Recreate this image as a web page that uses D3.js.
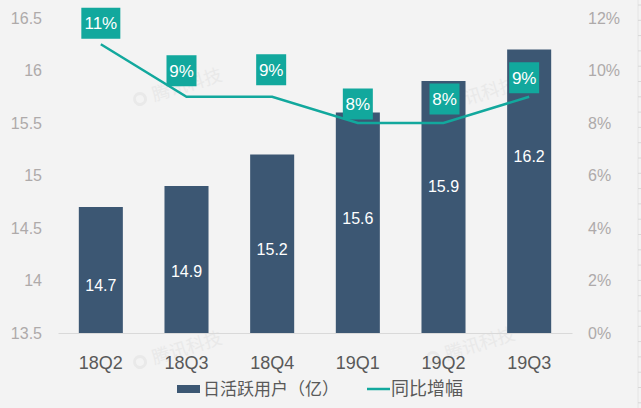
<!DOCTYPE html>
<html>
<head>
<meta charset="utf-8">
<script src="https://cdn.jsdelivr.net/npm/d3@7"></script>
<style>
html, body { margin: 0; padding: 0; background: #f3f3f3; }
svg text { font-family: "Liberation Sans", Arial, sans-serif; }
</style>
</head>
<body>
<div id="chart"></div>
<script>
var width = 641,
    height = 408;

var quarters = ["18Q2", "18Q3", "18Q4", "19Q1", "19Q2", "19Q3"];
var dau = [14.7, 14.9, 15.2, 15.6, 15.9, 16.2];
var growth = [11, 9, 9, 8, 8, 9];
var leftTicks = [13.5, 14, 14.5, 15, 15.5, 16, 16.5];
var rightTicks = [0, 2, 4, 6, 8, 10, 12];
var barName = "日活跃用户（亿）";
var lineName = "同比增幅";
var watermarks = [[140, 99], [435, 108], [140, 362], [433, 358]];

// the labels were placed by hand in the original, so nudge them the same way
var barLabelShift = [15, 12, 6, -4, -21, -35];
var boxShiftX = [0, -5, -1, 0, 1, -5];
var boxShiftY = [-21, -26, -27, -19, -24, -19];

var svg = d3.select("#chart").append("svg")
    .attr("width", width)
    .attr("height", height)
    .style("display", "block");

var x = d3.scaleBand().domain(quarters).range([58, 572]).paddingInner(0.486).paddingOuter(0.243);
var yLeft = d3.scaleLinear().domain([13.5, 16.5]).range([333, 18]);
var yRight = d3.scaleLinear().domain([0, 12]).range([333, 18]);

// faint ruler along the right edge of the screenshot
var ruler = svg.append("g");
ruler.append("line")
    .attr("x1", 638).attr("x2", 638)
    .attr("y1", 0).attr("y2", height)
    .style("stroke", "#e4e4e4");
ruler.selectAll("line.tick")
    .data(d3.range(5, height, 15.3))
    .enter().append("line")
    .attr("class", "tick")
    .attr("x1", 638).attr("x2", 641)
    .attr("y1", function (d) { return d; })
    .attr("y2", function (d) { return d; })
    .style("stroke", "#d8d8d8");

// watermark
var wm = svg.append("g").selectAll("g")
    .data(watermarks)
    .enter().append("g")
    .attr("transform", function (d) {
        return "translate(" + d[0] + "," + d[1] + ") rotate(-17)";
    });
wm.append("circle")
    .attr("r", 5.5)
    .style("fill", "none")
    .style("stroke", "#e9e9e9")
    .style("stroke-width", 3);
wm.append("text")
    .attr("x", 13)
    .attr("dy", ".35em")
    .attr("font-size", "18px")
    .style("font-family", "'Noto Sans CJK SC'")
    .style("fill", "#e9e9e9")
    .text("腾讯科技");

// axes
var axisLeft = svg.append("g")
    .attr("transform", "translate(47,0)")
    .call(d3.axisLeft(yLeft).tickValues(leftTicks).tickSize(0).tickPadding(5).tickFormat(d3.format("")));
var axisRight = svg.append("g")
    .attr("transform", "translate(585,0)")
    .call(d3.axisRight(yRight).tickValues(rightTicks).tickSize(0).tickPadding(3).tickFormat(function (d) { return d + "%"; }));
var axisBottom = svg.append("g")
    .attr("transform", "translate(0,333)")
    .call(d3.axisBottom(x).tickSize(0).tickPadding(23));
[axisLeft, axisRight].forEach(function (a) {
    a.select(".domain").remove();
    a.selectAll("text").attr("font-size", "16px").style("fill", "#aeaaaa");
});
axisBottom.select(".domain").style("stroke", "#d9d9d9");
axisBottom.selectAll("text").attr("font-size", "18px").style("fill", "#595959");

// bars
svg.selectAll("rect.bar")
    .data(dau)
    .enter().append("rect")
    .attr("class", "bar")
    .attr("x", function (d, i) { return x(quarters[i]); })
    .attr("y", function (d) { return yLeft(d); })
    .attr("width", x.bandwidth())
    .attr("height", function (d) { return yLeft(13.5) - yLeft(d); })
    .style("fill", "#3c5773");

svg.selectAll("text.barlabel")
    .data(dau)
    .enter().append("text")
    .attr("class", "barlabel")
    .attr("x", function (d, i) { return x(quarters[i]) + x.bandwidth() / 2; })
    .attr("y", function (d, i) { return (yLeft(d) + yLeft(13.5)) / 2 + barLabelShift[i]; })
    .attr("dy", ".35em")
    .attr("text-anchor", "middle")
    .attr("font-size", "16px")
    .style("fill", "#fff")
    .text(function (d) { return d.toFixed(1); });

// growth line
var line = d3.line()
    .x(function (d, i) { return x(quarters[i]) + x.bandwidth() / 2; })
    .y(function (d) { return yRight(d); });
svg.append("path")
    .attr("d", line(growth))
    .style("fill", "none")
    .style("stroke", "#12a89d")
    .style("stroke-width", 2.5);

var box = svg.selectAll("g.box")
    .data(growth)
    .enter().append("g")
    .attr("class", "box")
    .attr("transform", function (d, i) {
        var cx = x(quarters[i]) + x.bandwidth() / 2 + boxShiftX[i];
        return "translate(" + cx + "," + (yRight(d) + boxShiftY[i]) + ")";
    });
box.append("rect")
    .attr("x", function (d) { return d > 9 ? -19.5 : -15; })
    .attr("y", -15.5)
    .attr("width", function (d) { return d > 9 ? 39 : 30; })
    .attr("height", 31)
    .style("fill", "#12a89d");
box.append("text")
    .attr("text-anchor", "middle")
    .attr("dy", ".35em")
    .attr("font-size", "17px")
    .style("fill", "#fff")
    .text(function (d) { return d + "%"; });

// legend
var legend = svg.append("g").attr("transform", "translate(0,389)");
legend.append("rect")
    .attr("x", 177)
    .attr("y", -4)
    .attr("width", 23)
    .attr("height", 8)
    .style("fill", "#3c5773");
legend.append("text")
    .attr("x", 203)
    .attr("dy", ".35em")
    .attr("font-size", "17px")
    .style("font-family", "'Noto Sans CJK SC'")
    .style("fill", "#595959")
    .text(barName);
legend.append("line")
    .attr("x1", 367)
    .attr("x2", 390)
    .style("stroke", "#12a89d")
    .style("stroke-width", 2.5);
legend.append("text")
    .attr("x", 391)
    .attr("dy", ".35em")
    .attr("font-size", "18px")
    .style("font-family", "'Noto Sans CJK SC'")
    .style("fill", "#595959")
    .text(lineName);
</script>
</body>
</html>
